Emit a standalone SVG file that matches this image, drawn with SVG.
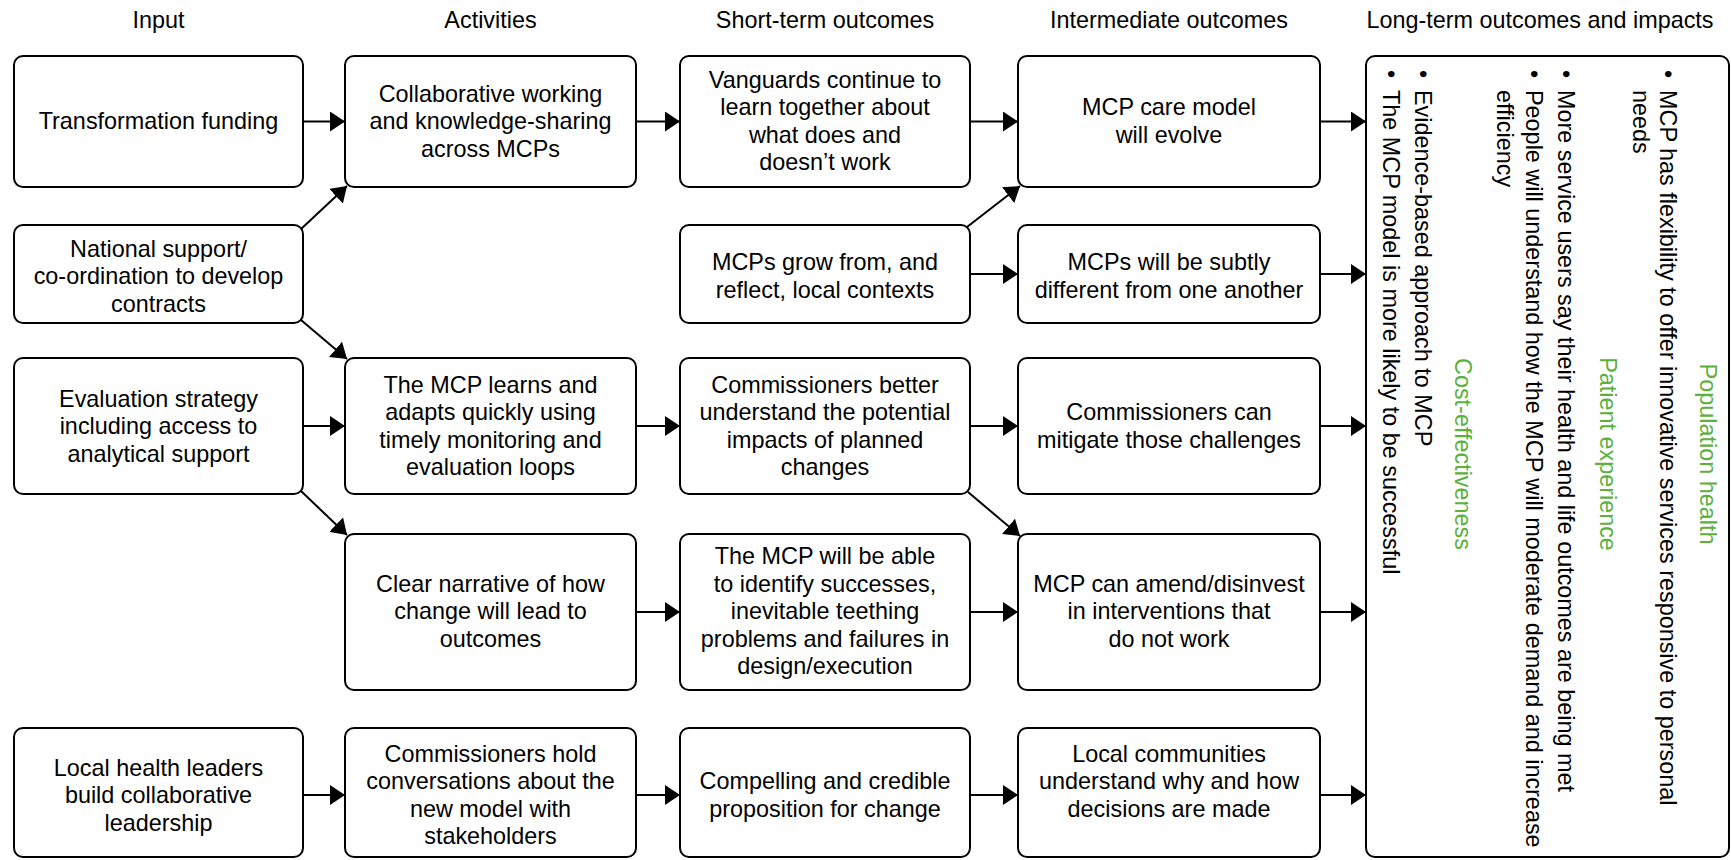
<svg xmlns="http://www.w3.org/2000/svg" width="1731" height="860" viewBox="0 0 1731 860">
<style>
text{font-family:"Liberation Sans","Open Sans",Arial,sans-serif;font-size:23.4px;fill:#000}
.t{text-anchor:middle}
.g{fill:#5cb03c;text-anchor:middle}
.box{fill:#fff;stroke:#000;stroke-width:2}
.c line{stroke:#000;stroke-width:2;marker-end:url(#ah)}
</style>
<defs>
<marker id="ah" markerWidth="16" markerHeight="20" refX="15" refY="10" orient="auto" markerUnits="userSpaceOnUse"><path d="M0,0 L15,10 L0,20 z" fill="#000"/></marker>
</defs>
<rect width="1731" height="860" fill="#fff"/>
<g id="headers">
<text class="t" x="158.5" y="28">Input</text>
<text class="t" x="490.5" y="28">Activities</text>
<text class="t" x="825" y="28">Short-term outcomes</text>
<text class="t" x="1169" y="28">Intermediate outcomes</text>
<text class="t" x="1540" y="28">Long-term outcomes and impacts</text>
</g>
<g class="c" id="connectors">
<line x1="303" y1="121.5" x2="345" y2="121.5"/>
<line x1="636" y1="121.5" x2="680" y2="121.5"/>
<line x1="970" y1="121.5" x2="1018" y2="121.5"/>
<line x1="1320" y1="121.5" x2="1366" y2="121.5"/>
<line x1="301" y1="229" x2="347" y2="186"/>
<line x1="301" y1="320" x2="347" y2="359"/>
<line x1="967" y1="227" x2="1020" y2="186"/>
<line x1="970" y1="274" x2="1018" y2="274"/>
<line x1="1320" y1="274" x2="1366" y2="274"/>
<line x1="303" y1="426" x2="345" y2="426"/>
<line x1="636" y1="426" x2="680" y2="426"/>
<line x1="970" y1="426" x2="1018" y2="426"/>
<line x1="1320" y1="426" x2="1366" y2="426"/>
<line x1="301" y1="491" x2="347" y2="535"/>
<line x1="968" y1="492" x2="1020" y2="536"/>
<line x1="636" y1="612" x2="680" y2="612"/>
<line x1="970" y1="612" x2="1018" y2="612"/>
<line x1="1320" y1="612" x2="1366" y2="612"/>
<line x1="303" y1="795" x2="345" y2="795"/>
<line x1="636" y1="795" x2="680" y2="795"/>
<line x1="970" y1="795" x2="1018" y2="795"/>
<line x1="1320" y1="795" x2="1366" y2="795"/>
</g>
<g id="in1"><rect class="box" x="14" y="56" width="289" height="131" rx="9"/>
<text class="t" x="158.5" y="129">Transformation funding</text></g>
<g id="in2"><rect class="box" x="14" y="225" width="289" height="98" rx="9"/>
<text class="t" x="158.5" y="256.5">National support/</text>
<text class="t" x="158.5" y="284">co-ordination to develop</text>
<text class="t" x="158.5" y="311.5">contracts</text></g>
<g id="in3"><rect class="box" x="14" y="358" width="289" height="136" rx="9"/>
<text class="t" x="158.5" y="406.5">Evaluation strategy</text>
<text class="t" x="158.5" y="434">including access to</text>
<text class="t" x="158.5" y="461.5">analytical support</text></g>
<g id="in4"><rect class="box" x="14" y="728" width="289" height="129" rx="9"/>
<text class="t" x="158.5" y="775.5">Local health leaders</text>
<text class="t" x="158.5" y="803">build collaborative</text>
<text class="t" x="158.5" y="830.5">leadership</text></g>
<g id="ac1"><rect class="box" x="345" y="56" width="291" height="131" rx="9"/>
<text class="t" x="490.5" y="101.5">Collaborative working</text>
<text class="t" x="490.5" y="129">and knowledge-sharing</text>
<text class="t" x="490.5" y="156.5">across MCPs</text></g>
<g id="ac2"><rect class="box" x="345" y="358" width="291" height="136" rx="9"/>
<text class="t" x="490.5" y="392.75">The MCP learns and</text>
<text class="t" x="490.5" y="420.25">adapts quickly using</text>
<text class="t" x="490.5" y="447.75">timely monitoring and</text>
<text class="t" x="490.5" y="475.25">evaluation loops</text></g>
<g id="ac3"><rect class="box" x="345" y="534" width="291" height="156" rx="9"/>
<text class="t" x="490.5" y="591.5">Clear narrative of how</text>
<text class="t" x="490.5" y="619">change will lead to</text>
<text class="t" x="490.5" y="646.5">outcomes</text></g>
<g id="ac4"><rect class="box" x="345" y="728" width="291" height="129" rx="9"/>
<text class="t" x="490.5" y="761.75">Commissioners hold</text>
<text class="t" x="490.5" y="789.25">conversations about the</text>
<text class="t" x="490.5" y="816.75">new model with</text>
<text class="t" x="490.5" y="844.25">stakeholders</text></g>
<g id="st1"><rect class="box" x="680" y="56" width="290" height="131" rx="9"/>
<text class="t" x="825" y="87.75">Vanguards continue to</text>
<text class="t" x="825" y="115.25">learn together about</text>
<text class="t" x="825" y="142.75">what does and</text>
<text class="t" x="825" y="170.25">doesn’t work</text></g>
<g id="st2"><rect class="box" x="680" y="225" width="290" height="98" rx="9"/>
<text class="t" x="825" y="270.25">MCPs grow from, and</text>
<text class="t" x="825" y="297.75">reflect, local contexts</text></g>
<g id="st3"><rect class="box" x="680" y="358" width="290" height="136" rx="9"/>
<text class="t" x="825" y="392.75">Commissioners better</text>
<text class="t" x="825" y="420.25">understand the potential</text>
<text class="t" x="825" y="447.75">impacts of planned</text>
<text class="t" x="825" y="475.25">changes</text></g>
<g id="st4"><rect class="box" x="680" y="534" width="290" height="156" rx="9"/>
<text class="t" x="825" y="564">The MCP will be able</text>
<text class="t" x="825" y="591.5">to identify successes,</text>
<text class="t" x="825" y="619">inevitable teething</text>
<text class="t" x="825" y="646.5">problems and failures in</text>
<text class="t" x="825" y="674">design/execution</text></g>
<g id="st5"><rect class="box" x="680" y="728" width="290" height="129" rx="9"/>
<text class="t" x="825" y="789.25">Compelling and credible</text>
<text class="t" x="825" y="816.75">proposition for change</text></g>
<g id="im1"><rect class="box" x="1018" y="56" width="302" height="131" rx="9"/>
<text class="t" x="1169" y="115.25">MCP care model</text>
<text class="t" x="1169" y="142.75">will evolve</text></g>
<g id="im2"><rect class="box" x="1018" y="225" width="302" height="98" rx="9"/>
<text class="t" x="1169" y="270.25">MCPs will be subtly</text>
<text class="t" x="1169" y="297.75">different from one another</text></g>
<g id="im3"><rect class="box" x="1018" y="358" width="302" height="136" rx="9"/>
<text class="t" x="1169" y="420.25">Commissioners can</text>
<text class="t" x="1169" y="447.75">mitigate those challenges</text></g>
<g id="im4"><rect class="box" x="1018" y="534" width="302" height="156" rx="9"/>
<text class="t" x="1169" y="591.5">MCP can amend/disinvest</text>
<text class="t" x="1169" y="619">in interventions that</text>
<text class="t" x="1169" y="646.5">do not work</text></g>
<g id="im5"><rect class="box" x="1018" y="728" width="302" height="129" rx="9"/>
<text class="t" x="1169" y="761.75">Local communities</text>
<text class="t" x="1169" y="789.25">understand why and how</text>
<text class="t" x="1169" y="816.75">decisions are made</text></g>
<g id="lt"><rect class="box" x="1366" y="56" width="363" height="801" rx="9"/>
<text class="g" transform="translate(1700,0) rotate(90)" x="454" y="0">Population health</text>
<text transform="translate(1660,0) rotate(90)"><tspan x="70" y="0">•</tspan><tspan x="90" y="0">MCP has flexibility to offer innovative services responsive to personal</tspan></text>
<text transform="translate(1633,0) rotate(90)" x="90" y="0">needs</text>
<text class="g" transform="translate(1600,0) rotate(90)" x="454" y="0">Patient experience</text>
<text transform="translate(1558,0) rotate(90)"><tspan x="70" y="0">•</tspan><tspan x="90" y="0">More service users say their health and life outcomes are being met</tspan></text>
<text transform="translate(1526,0) rotate(90)"><tspan x="70" y="0">•</tspan><tspan x="90" y="0">People will understand how the MCP will moderate demand and increase</tspan></text>
<text transform="translate(1497,0) rotate(90)" x="90" y="0">efficiency</text>
<text class="g" transform="translate(1455,0) rotate(90)" x="454" y="0">Cost-effectiveness</text>
<text transform="translate(1415,0) rotate(90)"><tspan x="70" y="0">•</tspan><tspan x="90" y="0">Evidence-based approach to MCP</tspan></text>
<text transform="translate(1383,0) rotate(90)"><tspan x="70" y="0">•</tspan><tspan x="90" y="0">The MCP model is more likely to be successful</tspan></text>
</g>
</svg>
